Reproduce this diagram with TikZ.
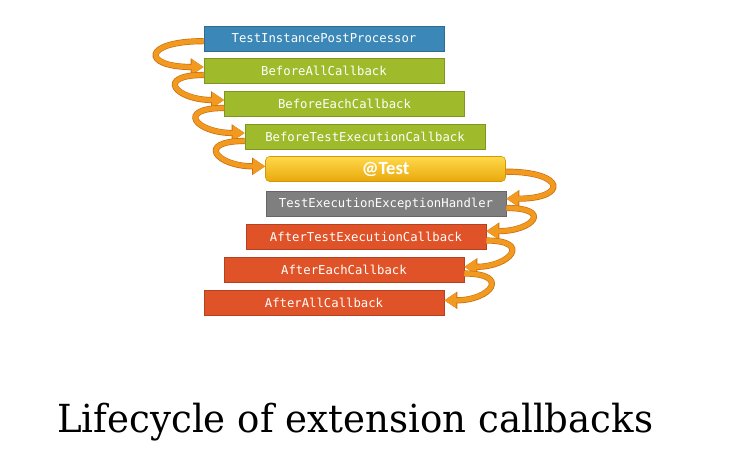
\documentclass[tikz,border=0pt]{standalone}
\usepackage{fontspec}
\setmainfont{DejaVu Serif}
\newfontfamily\boxmono{DejaVu Sans Mono}
\newfontfamily\testfont{Carlito}
\usetikzlibrary{arrows.meta,shadings}
\definecolor{cblue}{HTML}{3B87B7}
\definecolor{cgreen}{HTML}{9FBB2B}
\definecolor{cgray}{HTML}{7F7F7F}
\definecolor{cred}{HTML}{E05328}
\definecolor{gtop}{HTML}{FFD94A}
\definecolor{gbot}{HTML}{E9A80C}
\definecolor{aorange}{HTML}{F29A1F}
\definecolor{adark}{HTML}{C96F12}
\tikzset{
  stepbox/.style={minimum width=180pt, minimum height=18.75pt, inner sep=0pt,
    text=white, font=\boxmono\fontsize{9.2}{11}\selectfont},
  bluebox/.style={stepbox, fill=cblue, draw=cblue!80!black, line width=0.4pt},
  greenbox/.style={stepbox, fill=cgreen, draw=cgreen!80!black, line width=0.4pt},
  graybox/.style={stepbox, fill=cgray, draw=cgray!80!black, line width=0.4pt},
  redbox/.style={stepbox, fill=cred, draw=cred!80!black, line width=0.4pt},
  testbox/.style={stepbox, rounded corners=3pt, top color=gtop, bottom color=gbot,
    draw=gbot!90!black, line width=0.4pt, font=\testfont\bfseries\fontsize{14}{16}\selectfont},
  flow/.style={line width=3.6pt, draw=aorange,
    -{Triangle[length=9pt,width=11pt]},
    preaction={draw=adark, line width=4.6pt, -{Triangle[length=9.8pt,width=12.4pt]}}},
}
\begin{document}
\begin{tikzpicture}[x=0.75pt,y=-0.75pt]
\useasboundingbox (0,0) rectangle (736,460);
\fill[white] (0,0) rectangle (736,460);
% boxes
\node[bluebox]  (tipp) at (324,38.5) {TestInstancePostProcessor};
\node[greenbox] (ba)   at (324,71)   {BeforeAllCallback};
\node[greenbox] (be)   at (344.5,104) {BeforeEachCallback};
\node[greenbox] (bte)  at (365,137)  {BeforeTestExecutionCallback};
\node[testbox]  (test) at (385.5,169) {@Test};
\node[graybox]  (teeh) at (386,204)  {TestExecutionExceptionHandler};
\node[redbox]   (ate)  at (366,236.5) {AfterTestExecutionCallback};
\node[redbox]   (ae)   at (344,269.5) {AfterEachCallback};
\node[redbox]   (aa)   at (324,303)  {AfterAllCallback};
% arrows (left side)
\draw[flow] ([yshift=-2pt]tipp.west) .. controls +(-62,0) and +(-62,0) .. ([yshift=3pt]ba.west);
\draw[flow] ([yshift=-3pt]ba.west) .. controls +(-49,0) and +(-49,0) .. ([yshift=3pt]be.west);
\draw[flow] ([yshift=-3pt]be.west) .. controls +(-49,0) and +(-49,0) .. ([yshift=3pt]bte.west);
\draw[flow] ([yshift=-3pt]bte.west) .. controls +(-49,0) and +(-49,0) .. ([yshift=2pt]test.west);
% arrows (right side)
\draw[flow] ([yshift=-2pt]test.east) .. controls +(61,0) and +(61,0) .. ([yshift=4pt]teeh.east);
\draw[flow] ([yshift=-3pt]teeh.east) .. controls +(47,0) and +(47,0) .. ([yshift=4pt]ate.east);
\draw[flow] ([yshift=-3pt]ate.east) .. controls +(46,0) and +(46,0) .. ([yshift=2pt]ae.east);
\draw[flow] ([yshift=-3pt]ae.east) .. controls +(47,0) and +(47,0) .. ([yshift=2pt]aa.east);
% title
\node[anchor=base west, inner sep=0pt, font=\fontsize{29}{34}\selectfont] (title) at (57,432) {\scalebox{0.96}[1]{Lifecycle of extension callbacks}};
\end{tikzpicture}
\end{document}
